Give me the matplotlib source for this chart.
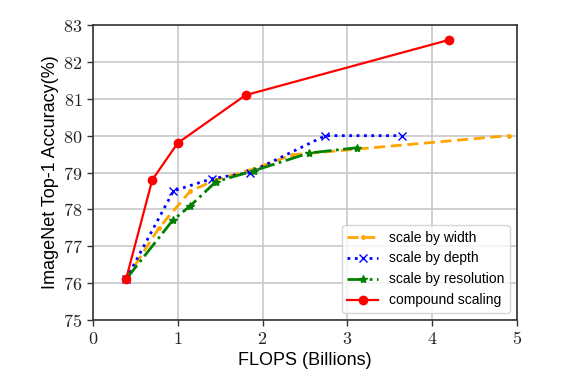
import matplotlib
matplotlib.use("Agg")
import matplotlib.pyplot as plt
from matplotlib.ticker import FuncFormatter

plt.rcParams['mathtext.fontset'] = 'cm'

width_x = [0.39, 0.78, 1.15, 1.45, 1.9, 2.35, 4.9]
width_y = [76.1, 77.5, 78.5, 78.8, 79.1, 79.48, 80.0]
depth_x = [0.39, 0.95, 1.40, 1.85, 2.74, 3.64]
depth_y = [76.1, 78.5, 78.83, 79.0, 80.0, 80.0]
res_x = [0.39, 0.94, 1.15, 1.45, 1.9, 2.55, 3.11]
res_y = [76.1, 77.7, 78.1, 78.75, 79.05, 79.53, 79.67]
comp_x = [0.39, 0.70, 1.0, 1.8, 4.2]
comp_y = [76.1, 78.8, 79.8, 81.1, 82.6]

fig = plt.figure(figsize=(5.7, 3.75), dpi=100)
ax = fig.add_axes([0.163, 0.147, 0.744, 0.786])

ax.plot(width_x, width_y, color='orange', linestyle=(0, (4, 2)), marker='.', markersize=5, linewidth=2, label='scale by width')
ax.plot(depth_x, depth_y, color='blue', linestyle=':', marker='x', markersize=6, linewidth=2, label='scale by depth')
ax.plot(res_x, res_y, color='green', linestyle='-.', marker='*', markersize=6, linewidth=2, label='scale by resolution')
ax.plot(comp_x, comp_y, color='red', linestyle='-', marker='o', markersize=6, linewidth=1.6, label='compound scaling')

ax.set_xlim(0, 5)
ax.set_ylim(75, 83)
ax.set_xticks(range(0, 6))
ax.set_yticks(range(75, 84))
ax.xaxis.set_major_formatter(FuncFormatter(lambda v, p: r'$%d$' % v))
ax.yaxis.set_major_formatter(FuncFormatter(lambda v, p: r'$%d$' % v))
ax.tick_params(labelsize=13, direction='out', length=4, width=1, colors='#333333', labelcolor='#222222')
ax.grid(True, color='#c8c8c8', linewidth=1.2)
ax.set_axisbelow(True)
for s in ax.spines.values():
    s.set_color('#333333')
    s.set_linewidth(1.2)

ax.set_xlabel('FLOPS (Billions)', family='Liberation Sans', fontsize=13, labelpad=3)
ax.set_ylabel('ImageNet Top-1 Accuracy(%)', family='Liberation Sans', fontsize=13, labelpad=3)

leg = ax.legend(loc='lower right', prop={'family': 'Liberation Sans', 'size': 10},
                fancybox=True, framealpha=0.8, edgecolor='#cccccc', handlelength=2.2)

fig.savefig('out.png', dpi=100)
